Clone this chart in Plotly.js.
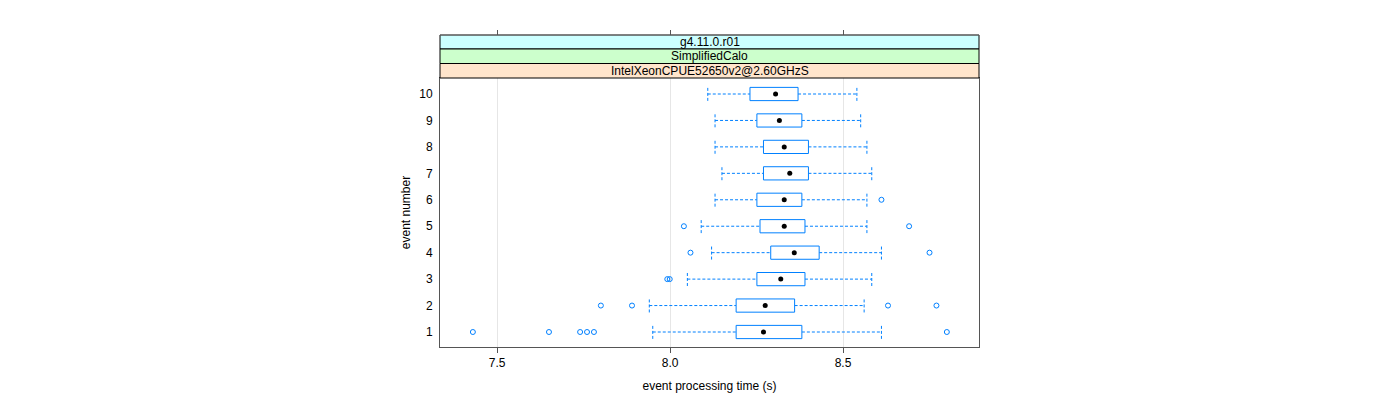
<!DOCTYPE html>
<html>
<head>
<meta charset="utf-8">
<script src="https://cdn.plot.ly/plotly-3.0.1.min.js"></script>
<style>html,body{margin:0;padding:0;background:#fff;}#chart{width:1400px;height:400px;}</style>
</head>
<body>
<div id="chart"></div>
<script>
// ---- data ----
const events = [1, 2, 3, 4, 5, 6, 7, 8, 9, 10];
const lowWhisker  = [7.950, 7.940, 8.050, 8.120, 8.090, 8.130, 8.150, 8.130, 8.130, 8.109];
const q1          = [8.191, 8.191, 8.251, 8.291, 8.260, 8.251, 8.270, 8.270, 8.251, 8.231];
const medians     = [8.270, 8.275, 8.320, 8.359, 8.330, 8.330, 8.346, 8.330, 8.316, 8.305];
const q3          = [8.381, 8.360, 8.390, 8.431, 8.390, 8.381, 8.400, 8.400, 8.381, 8.370];
const highWhisker = [8.611, 8.561, 8.583, 8.611, 8.569, 8.569, 8.583, 8.569, 8.551, 8.540];
const outliers = [
  [7.430, 7.650, 7.740, 7.760, 7.780, 8.800],
  [7.800, 7.890, 8.630, 8.770],
  [7.992, 7.999],
  [8.059, 8.750],
  [8.040, 8.691],
  [8.611],
  [],
  [],
  [],
  []
];
const xTicks = [7.5, 8.0, 8.5];
const xTickLabels = ['7.5', '8.0', '8.5'];
const stripLabels = ['g4.11.0.r01', 'SimplifiedCalo', 'IntelXeonCPUE52650v2@2.60GHzS'];
const stripColors = ['#ccffff', '#ccffcc', '#ffe5cc'];

// ---- styling ----
const BLUE = '#0080ff';
const BOX_H = 0.25;
const CAP_H = 0.26;

const boxX = [], boxY = [], whX = [], whY = [], outX = [], outY = [];
events.forEach((ev, i) => {
  boxX.push(q1[i], q3[i], q3[i], q1[i], q1[i], null);
  boxY.push(ev - BOX_H, ev - BOX_H, ev + BOX_H, ev + BOX_H, ev - BOX_H, null);
  whX.push(lowWhisker[i], q1[i], null, q3[i], highWhisker[i], null,
           lowWhisker[i], lowWhisker[i], null, highWhisker[i], highWhisker[i], null);
  whY.push(ev, ev, null, ev, ev, null,
           ev - CAP_H, ev + CAP_H, null, ev - CAP_H, ev + CAP_H, null);
  outliers[i].forEach(v => { outX.push(v); outY.push(ev); });
});

const traces = [
  {type: 'scatter', mode: 'lines', x: whX, y: whY, line: {color: BLUE, width: 1, dash: '3px,2px'}, hoverinfo: 'skip', showlegend: false},
  {type: 'scatter', mode: 'lines', x: boxX, y: boxY, line: {color: BLUE, width: 1}, fill: 'toself', fillcolor: 'rgba(255,255,255,1)', hoverinfo: 'skip', showlegend: false},
  {type: 'scatter', mode: 'markers', x: outX, y: outY, marker: {symbol: 'circle-open', color: BLUE, size: 5, line: {width: 1, color: BLUE}}, hoverinfo: 'skip', showlegend: false},
  {type: 'scatter', mode: 'markers', x: medians, y: events, marker: {symbol: 'circle', color: '#000', size: 5}, hoverinfo: 'skip', showlegend: false},
  {type: 'scatter', mode: 'markers', x: [], y: [], xaxis: 'x2', yaxis: 'y', hoverinfo: 'skip', showlegend: false}
];

// plot area: top 35px, bottom 347px; panel from 78 to 347
const TOP = 35, BOT = 347, PANEL_TOP = 78;
const H = BOT - TOP;
const pf = px => (BOT - px) / H;
const stripEdges = [35, 49, 63.5, 78];

const shapes = [], annotations = [];
stripLabels.forEach((lab, k) => {
  shapes.push({type: 'rect', xref: 'paper', yref: 'paper', x0: 0, x1: 1,
    y0: pf(stripEdges[k + 1]), y1: pf(stripEdges[k]),
    fillcolor: stripColors[k], line: {color: '#000', width: 1}, layer: 'above'});
  annotations.push({xref: 'paper', yref: 'paper', x: 0.5,
    y: (pf(stripEdges[k + 1]) + pf(stripEdges[k])) / 2, yanchor: 'middle',
    text: lab, showarrow: false, font: {size: 12, color: '#000'}});
});
// gray outer top border
shapes.push({type: 'line', xref: 'paper', yref: 'paper', x0: 0, x1: 1, y0: 1, y1: 1, line: {color: '#808080', width: 1}});

const layout = {
  width: 1400, height: 400,
  margin: {l: 440, r: 421, t: TOP, b: 400 - BOT, pad: 0},
  paper_bgcolor: '#fff', plot_bgcolor: '#fff',
  font: {family: '"Liberation Sans", Arial, Helvetica, sans-serif', size: 12, color: '#000'},
  hovermode: false,
  showlegend: false,
  xaxis: {
    range: [7.335, 8.893], anchor: 'y', domain: [0, 1],
    tickvals: xTicks, ticktext: xTickLabels, ticks: 'outside', ticklen: 5, tickcolor: '#555', tickwidth: 1,
    showline: true, linecolor: '#555', linewidth: 1, mirror: true,
    showgrid: true, gridcolor: '#e6e6e6', gridwidth: 1, zeroline: false,
    tickfont: {size: 12},
    title: {text: 'event processing time (s)', font: {size: 12}, standoff: 12}
  },
  xaxis2: {
    range: [7.335, 8.893], overlaying: 'x', anchor: 'free', position: 1, side: 'top',
    tickvals: xTicks, showticklabels: false, ticks: 'outside', ticklen: 5, tickcolor: '#555', tickwidth: 1,
    showgrid: false, showline: false, zeroline: false
  },
  yaxis: {
    range: [0.433, 10.605], domain: [0, pf(PANEL_TOP)],
    tickvals: events, ticktext: events.map(String), ticks: '', 
    showline: true, linecolor: '#555', linewidth: 1, mirror: true,
    showgrid: false, zeroline: false, tickfont: {size: 12},
    ticklabelstandoff: 4,
    title: {text: 'event number', font: {size: 12}, standoff: 6}
  },
  shapes: shapes,
  annotations: annotations
};

Plotly.newPlot('chart', traces, layout, {displayModeBar: false, staticPlot: true});
</script>
</body>
</html>
